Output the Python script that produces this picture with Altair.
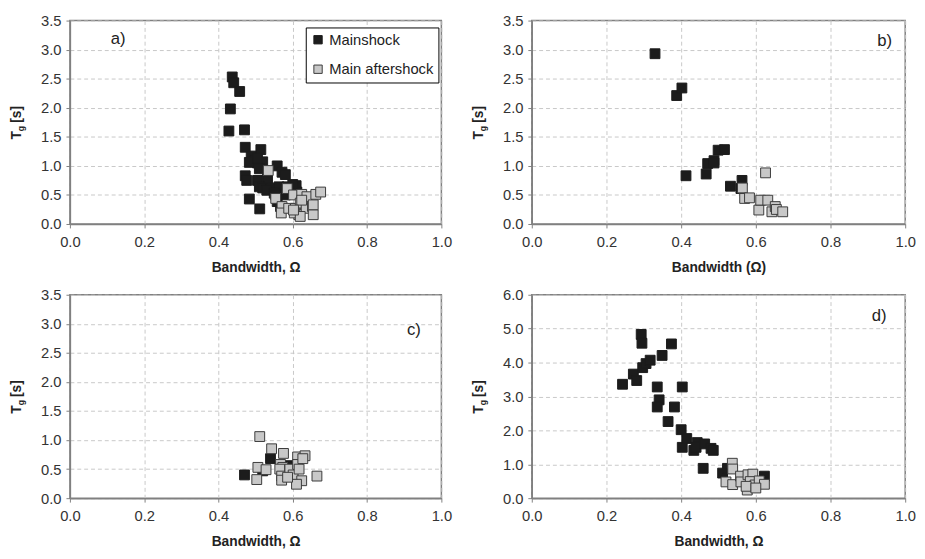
import altair as alt
import pandas as pd

# ---------------- data ----------------
a_main_x = [0.437, 0.441, 0.457, 0.432, 0.428, 0.470, 0.472, 0.514, 0.488, 0.497, 0.505, 0.519,
            0.483, 0.510, 0.505, 0.558, 0.571, 0.580, 0.472, 0.476, 0.505, 0.532, 0.510, 0.519,
            0.540, 0.563, 0.585, 0.609, 0.530, 0.550, 0.554, 0.483, 0.511, 0.558, 0.567, 0.611,
            0.600, 0.580]
a_main_y = [2.53, 2.43, 2.28, 1.98, 1.60, 1.62, 1.32, 1.28, 1.17, 1.10, 1.05, 1.07,
            1.06, 0.95, 1.13, 1.00, 0.89, 0.85, 0.83, 0.75, 0.75, 0.78, 0.64, 0.62,
            0.62, 0.64, 0.64, 0.66, 0.58, 0.53, 0.50, 0.43, 0.26, 0.385, 0.30, 0.55,
            0.68, 0.50]
a_after_x = [0.534, 0.585, 0.554, 0.602, 0.624, 0.638, 0.662, 0.675, 0.571, 0.569, 0.589, 0.607,
             0.620, 0.616, 0.636, 0.653, 0.655, 0.604, 0.624, 0.655, 0.620, 0.602]
a_after_y = [0.92, 0.61, 0.44, 0.50, 0.51, 0.47, 0.51, 0.55, 0.30, 0.19, 0.27, 0.27,
             0.36, 0.16, 0.27, 0.30, 0.16, 0.19, 0.41, 0.33, 0.13, 0.24]

b_main_x = [0.330, 0.388, 0.402, 0.413, 0.467, 0.471, 0.488, 0.488, 0.499, 0.516, 0.532, 0.563, 0.560]
b_main_y = [2.93, 2.21, 2.34, 0.83, 0.86, 1.04, 1.09, 1.05, 1.27, 1.28, 0.65, 0.75, 0.61]
b_after_x = [0.564, 0.570, 0.583, 0.626, 0.608, 0.613, 0.632, 0.643, 0.652, 0.655, 0.672]
b_after_y = [0.62, 0.44, 0.45, 0.88, 0.24, 0.41, 0.41, 0.21, 0.30, 0.25, 0.21]

c_main_x = [0.470, 0.519, 0.540, 0.586]
c_main_y = [0.40, 0.47, 0.68, 0.56]
c_after_x = [0.511, 0.543, 0.575, 0.506, 0.528, 0.503, 0.567, 0.573, 0.565, 0.570, 0.570, 0.592,
             0.601, 0.613, 0.613, 0.617, 0.633, 0.624, 0.610, 0.586, 0.665, 0.627]
c_after_y = [1.06, 0.85, 0.77, 0.53, 0.49, 0.32, 0.58, 0.53, 0.50, 0.38, 0.31, 0.50,
             0.40, 0.71, 0.58, 0.50, 0.73, 0.30, 0.24, 0.36, 0.38, 0.68]

d_main_x = [0.243, 0.272, 0.281, 0.293, 0.295, 0.297, 0.306, 0.317, 0.349, 0.374, 0.336, 0.341,
            0.336, 0.382, 0.403, 0.365, 0.400, 0.403, 0.415, 0.434, 0.443, 0.440, 0.463, 0.480,
            0.486, 0.459, 0.511, 0.524, 0.623, 0.618]
d_main_y = [3.36, 3.66, 3.47, 4.83, 4.57, 3.85, 3.97, 4.07, 4.21, 4.55, 3.28, 2.90,
            2.69, 2.69, 3.28, 2.26, 2.02, 1.50, 1.76, 1.41, 1.64, 1.50, 1.60, 1.47,
            1.41, 0.88, 0.74, 0.88, 0.65, 0.47]
d_after_x = [0.537, 0.538, 0.520, 0.538, 0.559, 0.560, 0.579, 0.592, 0.585, 0.577, 0.598, 0.609,
             0.623, 0.574, 0.600]
d_after_y = [1.03, 0.86, 0.48, 0.40, 0.65, 0.48, 0.69, 0.71, 0.49, 0.24, 0.39, 0.51,
             0.41, 0.35, 0.30]

series_names = ["Mainshock", "Main aftershock"]
panel_labels = ["a)", "b)", "c)", "d)"]
label_pos_x = [0.13, 0.945, 0.926, 0.93]
label_pos_y = [3.18, 3.15, 2.90, 5.37]
x_titles = ["Bandwidth, Ω", "Bandwidth (Ω)", "Bandwidth, Ω", "Bandwidth, Ω"]
y_max = [3.5, 3.5, 3.5, 6.0]
y_step = [0.5, 0.5, 0.5, 1.0]
x_ticks = [0.0, 0.2, 0.4, 0.6, 0.8, 1.0]

FONT = "Liberation Sans"
WIDTHS = [378, 380, 378, 380]
H = 207


def frame(mx, my, ax, ay):
    rows = [{"bw": x, "tg": y, "s": series_names[0]} for x, y in zip(mx, my)]
    rows += [{"bw": x, "tg": y, "s": series_names[1]} for x, y in zip(ax, ay)]
    return pd.DataFrame(rows)


datasets = [
    frame(a_main_x, a_main_y, a_after_x, a_after_y),
    frame(b_main_x, b_main_y, b_after_x, b_after_y),
    frame(c_main_x, c_main_y, c_after_x, c_after_y),
    frame(d_main_x, d_main_y, d_after_x, d_after_y),
]


def panel(i):
    df = datasets[i]
    ymax = y_max[i]
    step = y_step[i]
    yvals = [round(k * step, 2) for k in range(int(round(ymax / step)) + 1)]
    xaxis = alt.Axis(values=x_ticks, format=".1f", title=x_titles[i], grid=True,
                     titleFontWeight="bold", titleFontSize=14, titlePadding=11,
                     labelPadding=7, labelFlush=False, labelOverlap=False)
    yaxis = alt.Axis(values=yvals, format=".1f", title=None, grid=True,
                     labelPadding=5, labelFlush=False, labelOverlap=False)
    xsc = alt.Scale(domain=[0, 1], nice=False)
    ysc = alt.Scale(domain=[0, ymax], nice=False)
    xs = alt.X("bw:Q", scale=xsc, axis=xaxis)
    ys = alt.Y("tg:Q", scale=ysc, axis=yaxis)
    if i == 0:
        leg = alt.Legend(title=None, orient="none", legendX=240, legendY=7,
                         strokeColor="black", fillColor="white", padding=5,
                         symbolType="square", symbolSize=72, labelFontSize=15,
                         labelFont=FONT, labelColor="#222222", rowPadding=14,
                         symbolStrokeWidth=1, labelOffset=4)
    else:
        leg = None
    pts = alt.Chart(df).mark_point(shape="square", filled=True, size=100, opacity=1,
                                   strokeWidth=1).encode(
        x=xs, y=ys,
        fill=alt.Fill("s:N", scale=alt.Scale(domain=series_names, range=["#1c1c1c", "#c8c8c8"]),
                      legend=leg),
        stroke=alt.Stroke("s:N", scale=alt.Scale(domain=series_names, range=["#1c1c1c", "#3a3a3a"]),
                          legend=leg),
        order=alt.Order("order:Q"),
    ).transform_calculate(order="datum.s == 'Mainshock' ? 0 : 1")

    lab = alt.Chart(pd.DataFrame({"bw": [label_pos_x[i]], "tg": [label_pos_y[i]],
                                  "t": [panel_labels[i]]})).mark_text(
        fontSize=17, font=FONT, color="#222222").encode(
        x=alt.X("bw:Q", scale=xsc, axis=xaxis),
        y=alt.Y("tg:Q", scale=ysc, axis=yaxis), text="t:N")

    # y-axis title "T_g [s]" made from rotated text pieces
    tdf = pd.DataFrame({"t": ["T"]})
    t_T = alt.Chart(tdf).mark_text(angle=270, align="left", baseline="middle", fontSize=14,
                                   fontWeight="bold", font=FONT, color="#222222").encode(
        x=alt.value(-54), y=alt.value(121), text=alt.value("T"))
    t_g = alt.Chart(tdf).mark_text(angle=270, align="left", baseline="middle", fontSize=9,
                                   fontWeight="bold", font=FONT, color="#222222").encode(
        x=alt.value(-50), y=alt.value(112.5), text=alt.value("g"))
    t_s = alt.Chart(tdf).mark_text(angle=270, align="left", baseline="middle", fontSize=14,
                                   fontWeight="bold", font=FONT, color="#222222").encode(
        x=alt.value(-54), y=alt.value(104), text=alt.value("[s]"))

    return alt.layer(pts, lab, t_T, t_g, t_s).properties(width=WIDTHS[i], height=H)


row1 = alt.hconcat(panel(0), panel(1), spacing=18)
row2 = alt.hconcat(panel(2), panel(3), spacing=18)
chart = alt.vconcat(row1, row2, spacing=12).resolve_scale(
    fill="independent", stroke="independent"
).resolve_legend(fill="independent", stroke="independent").properties(
    padding={"left": 1, "top": 0, "right": 0, "bottom": 0},
    background="white"
).configure_view(
    stroke="#808080", strokeWidth=1.5
).configure_axis(
    labelFont=FONT, labelFontSize=15, labelColor="#333333",
    titleFont=FONT, titleColor="#222222",
    gridColor="#c8c8c8", gridDash=[4, 3], gridWidth=1,
    domainColor="#808080", domainWidth=1.5,
    tickColor="#808080", tickSize=4, labelOverlap=False,
)

chart.save("out.html", embed_options={"renderer": "svg", "actions": False})
